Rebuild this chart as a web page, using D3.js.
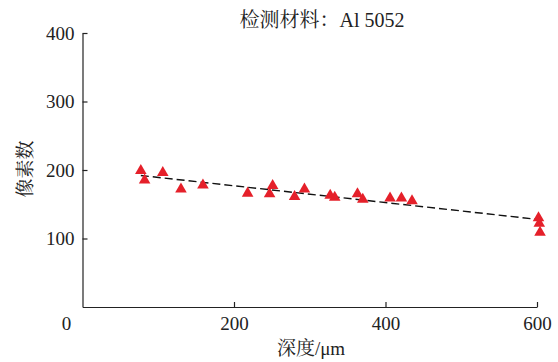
<!DOCTYPE html>
<html>
<head>
<meta charset="utf-8">
<script src="https://cdn.jsdelivr.net/npm/d3@7"></script>
<style>
  body { margin: 0; background: #fff; }
  text { font-family: "Liberation Serif", "Noto Serif CJK SC", "Noto Sans CJK SC", serif; fill: #222; }
</style>
</head>
<body>
<script>
// measured points
var depth = [77, 82, 106, 130, 159, 218, 247, 251, 280, 293, 327, 333, 363, 370, 406, 421, 435, 602, 603, 604];
var pixels = [199, 185, 196, 172, 178, 166, 165, 177, 161, 172, 163, 160, 165, 157, 159, 159, 155, 130, 122, 109];

// fitted trend line end points
var fitDepth = [77, 600];
var fitPixels = [192, 128];

var xTicks = [200, 400, 600];
var yTicks = [100, 200, 300, 400];

var titleText = "检测材料：Al 5052";
var xLabel = "深度/μm";
var yLabel = "像素数";

var w = 558, h = 362;
var x0 = 82.5, x1 = 537, yBottom = 307, yTop = 33;

var svg = d3.select("body")
	.append("svg")
	.attr("width", w)
	.attr("height", h);

var x = d3.scaleLinear().domain([0, 600]).range([x0, x1]);
var y = d3.scaleLinear().domain([0, 400]).range([yBottom, yTop]);

//Axes, ticks pointing inward
var xAxis = svg.append("g")
	.attr("transform", "translate(0," + yBottom + ")")
	.call(d3.axisBottom(x).tickValues(xTicks).tickSizeInner(-5).tickSizeOuter(0).tickPadding(10));

var yAxis = svg.append("g")
	.attr("transform", "translate(" + x0 + ",0)")
	.call(d3.axisLeft(y).tickValues(yTicks).tickSizeInner(-5).tickSizeOuter(0).tickPadding(8));

[xAxis, yAxis].forEach(function(g) {
	g.selectAll("path, line").attr("stroke", "#222").attr("stroke-width", 1.2);
	g.selectAll("text").style("font-size", "19px").attr("fill", "#222");
});

//shared origin label
svg.append("text")
	.text("0")
	.attr("x", x(0) - 16)
	.attr("y", y(0) + 23)
	.attr("text-anchor", "middle")
	.style("font-size", "19px");

//Trend line
var line = d3.line()
	.x(function(d) { return x(d[0]); })
	.y(function(d) { return y(d[1]); });

svg.append("path")
	.datum(d3.zip(fitDepth, fitPixels))
	.attr("d", line)
	.attr("fill", "none")
	.attr("stroke", "#111")
	.attr("stroke-width", 1.4)
	.attr("stroke-dasharray", "8,4");

//Points
svg.selectAll("path.pt")
	.data(d3.zip(depth, pixels))
	.enter()
	.append("path")
	.attr("class", "pt")
	.attr("d", d3.symbol().type(d3.symbolTriangle).size(58))
	.attr("transform", function(d) {
		return "translate(" + x(d[0]) + "," + y(d[1]) + ")";
	})
	.attr("fill", "#e5202a");

//Titles
svg.append("text")
	.text(titleText)
	.attr("x", 322)
	.attr("y", 27)
	.attr("text-anchor", "middle")
	.style("font-size", "20px");

svg.append("text")
	.text(xLabel)
	.attr("x", 311)
	.attr("y", 355)
	.attr("text-anchor", "middle")
	.style("font-size", "19px");

svg.append("text")
	.text(yLabel)
	.attr("transform", "translate(32,169) rotate(-90)")
	.attr("text-anchor", "middle")
	.style("font-size", "19px");
</script>
</body>
</html>
